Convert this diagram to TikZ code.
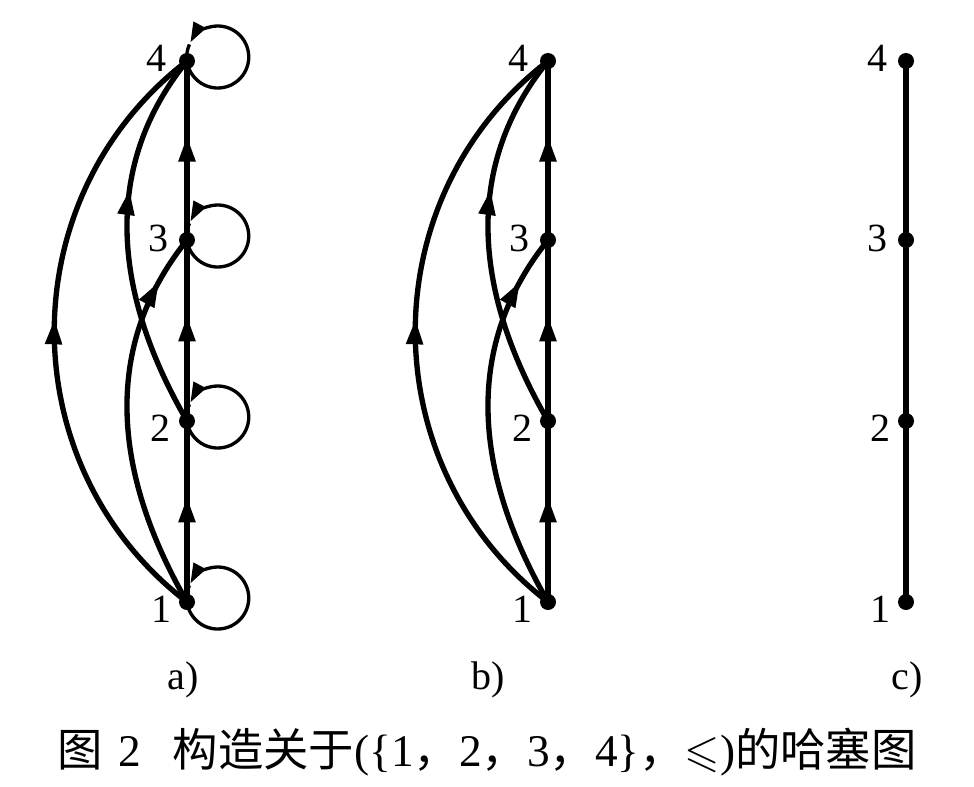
\documentclass[tikz,border=0pt]{standalone}
\usepackage{fontspec}
\usepackage{amssymb}
\setmainfont{Liberation Serif}
\newfontfamily\cjk{Noto Sans CJK SC}
\usetikzlibrary{arrows.meta,decorations.markings,calc}
\tikzset{
  vtx/.style={circle,fill=black,inner sep=0pt,minimum size=12pt},
  numlab/.style={font=\fontsize{30}{30}\selectfont,inner sep=0pt},
  sublab/.style={font=\fontsize{30}{30}\selectfont,inner sep=0pt},
  caplab/.style={font=\fontsize{34}{34}\selectfont,inner sep=0pt},
  ed/.style={line width=4pt},
  midarrow/.style={postaction={decorate},decoration={markings,mark=at position #1 with {\arrow{Triangle[length=19pt,width=12pt]}}}},
  loopline/.style={line width=2.5pt},
  looparrow/.style={line width=2.5pt,-{Triangle[length=15pt,width=10pt]}}
}
\begin{document}
\begin{tikzpicture}[x=0.75pt,y=-0.75pt]
\useasboundingbox (0,0) rectangle (974,786);
% ---------- graph a ----------
\node[vtx] (a1) at (187,602) {};
\node[vtx] (a2) at (187,421) {};
\node[vtx] (a3) at (187,240) {};
\node[vtx] (a4) at (187,61) {};
\node[numlab] (la1) at (161,609) {1};
\node[numlab] (la2) at (160,428) {2};
\node[numlab] (la3) at (158,238) {3};
\node[numlab] (la4) at (156,58) {4};
\draw[ed,midarrow=0.58] (a1.center) -- (a2.center);
\draw[ed,midarrow=0.58] (a2.center) -- (a3.center);
\draw[ed,midarrow=0.58] (a3.center) -- (a4.center);
\draw[ed,midarrow=0.52] (a1.center) .. controls (10,466) and (10,197) .. (a4.center);
\draw[ed,midarrow=0.87] (a1.center) .. controls (110.5,469) and (103.5,344) .. (a3.center);
\draw[ed,midarrow=0.63] (a2.center) .. controls (110.5,289) and (103.5,164) .. (a4.center);
\foreach \v in {a1,a2,a3,a4}{
  \draw[looparrow] (\v.center) arc[start angle=172.6,end angle=-152,radius=31];
  \draw[loopline] (\v.center) arc[start angle=172.6,end angle=204,radius=31];
}
% ---------- graph b ----------
\node[vtx] (b1) at (548,602) {};
\node[vtx] (b2) at (548,421) {};
\node[vtx] (b3) at (548,240) {};
\node[vtx] (b4) at (548,61) {};
\node[numlab] (lb1) at (522,609) {1};
\node[numlab] (lb2) at (522,428) {2};
\node[numlab] (lb3) at (519,238) {3};
\node[numlab] (lb4) at (518,58) {4};
\draw[ed,midarrow=0.58] (b1.center) -- (b2.center);
\draw[ed,midarrow=0.58] (b2.center) -- (b3.center);
\draw[ed,midarrow=0.58] (b3.center) -- (b4.center);
\draw[ed,midarrow=0.52] (b1.center) .. controls (371,466) and (371,197) .. (b4.center);
\draw[ed,midarrow=0.87] (b1.center) .. controls (471.5,469) and (464.5,344) .. (b3.center);
\draw[ed,midarrow=0.63] (b2.center) .. controls (471.5,289) and (464.5,164) .. (b4.center);
% ---------- graph c ----------
\node[vtx] (c1) at (906,602) {};
\node[vtx] (c2) at (906,421) {};
\node[vtx] (c3) at (906,240) {};
\node[vtx] (c4) at (906,61) {};
\node[numlab] (lc1) at (880,609) {1};
\node[numlab] (lc2) at (880,428) {2};
\node[numlab] (lc3) at (877,238) {3};
\node[numlab] (lc4) at (877,58) {4};
\draw[ed] (c1.center) -- (c2.center) -- (c3.center) -- (c4.center);
% ---------- labels ----------
\node[sublab] (sa) at (183,680) {a)};
\node[sublab] (sb) at (488,680) {b)};
\node[sublab] (sc) at (907,680) {c)};
\node[caplab] (cap) at (487,752) {{\cjk 图}\hspace{0.35em}2\hspace{0.7em}{\cjk 构造关于}(\{1{\cjk ，}2{\cjk ，}3{\cjk ，}4\}{\cjk ，}$\leqslant$){\cjk 的哈塞图}};
\end{tikzpicture}
\end{document}
